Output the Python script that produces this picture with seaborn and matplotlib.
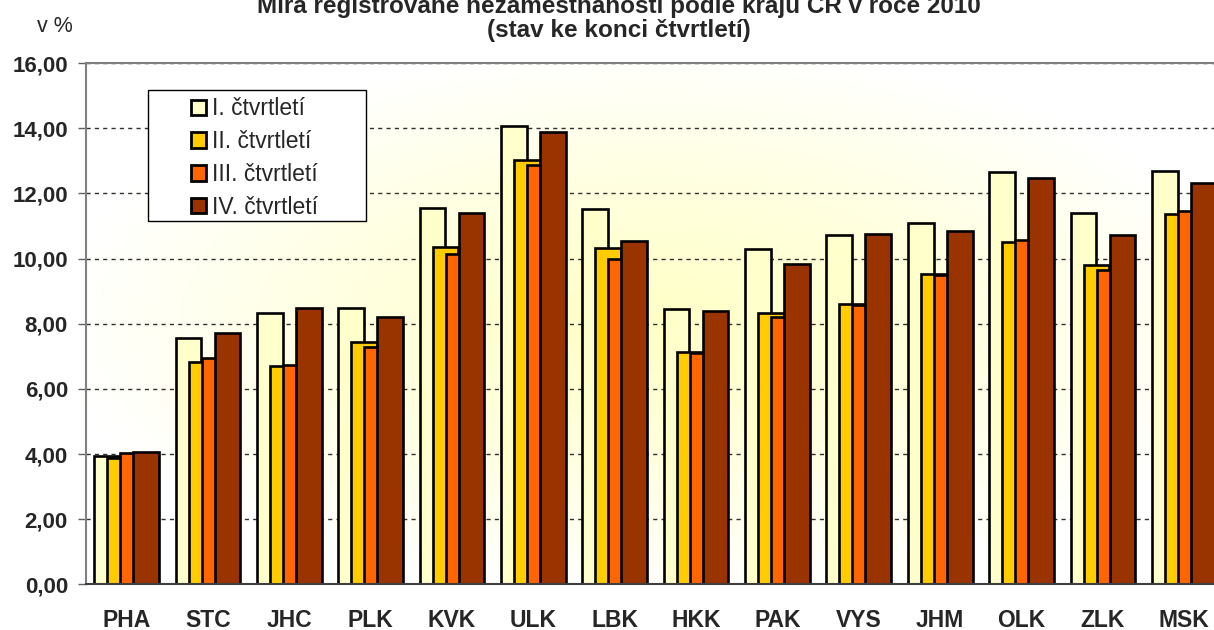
import numpy as np
import pandas as pd
import matplotlib
matplotlib.use('Agg')
import matplotlib.pyplot as plt
from matplotlib.patches import Rectangle
import seaborn as sns

regions = ['PHA', 'STC', 'JHC', 'PLK', 'KVK', 'ULK', 'LBK', 'HKK', 'PAK', 'VYS', 'JHM', 'OLK', 'ZLK', 'MSK']
quarters = ['I. čtvrtletí', 'II. čtvrtletí', 'III. čtvrtletí', 'IV. čtvrtletí']
q1 = [3.94, 7.55, 8.32, 8.49, 11.54, 14.08, 11.52, 8.44, 10.29, 10.71, 11.08, 12.67, 11.39, 12.70]
q2 = [3.87, 6.84, 6.71, 7.45, 10.36, 13.02, 10.32, 7.13, 8.34, 8.61, 9.53, 10.50, 9.81, 11.36]
q3 = [4.04, 6.96, 6.72, 7.29, 10.14, 12.86, 10.00, 7.09, 8.22, 8.57, 9.50, 10.56, 9.64, 11.47]
q4 = [4.07, 7.73, 8.49, 8.22, 11.39, 13.90, 10.53, 8.38, 9.85, 10.75, 10.86, 12.47, 10.73, 12.33]
colors = ['#FFFFCC', '#FFCC00', '#FF6600', '#993300']
yticks = [0, 2, 4, 6, 8, 10, 12, 14, 16]

df = pd.DataFrame({
    'kraj': regions * 4,
    'ctvrtleti': np.repeat(quarters, len(regions)),
    'hodnota': q1 + q2 + q3 + q4,
})

sns.set_style('white')
plt.rcParams['font.family'] = ['Liberation Sans', 'DejaVu Sans']

fig = plt.figure(figsize=(12.14, 6.30), dpi=100)
ax = fig.add_axes([0.0708, 0.0725, 0.9382, 0.8272])

# radial background gradient (light yellow centre -> white edges)
gx, gy = np.meshgrid(np.linspace(-1, 1, 400), np.linspace(-1, 1, 300))
r = np.clip(np.sqrt(gx ** 2 + gy ** 2) / 1.05, 0, 1) ** 1.2
center = np.array([255, 255, 200]) / 255
grad = (1 - r)[..., None] * center + r[..., None] * np.ones(3)
ax.imshow(grad, extent=[0, 1, 0, 1], transform=ax.transAxes, aspect='auto', zorder=0)

sns.barplot(data=df, x='kraj', y='hodnota', hue='ctvrtleti', order=regions,
            hue_order=quarters, palette=colors, edgecolor='black', linewidth=1.9,
            saturation=1, errorbar=None, ax=ax)

# Excel-like overlapping bars
bw, step = 0.316, 0.16
span = 3 * step + bw
for i, cont in enumerate(ax.containers):
    for bar in cont:
        c = round(bar.get_x() + bar.get_width() / 2)
        bar.set_x(c - span / 2 + i * step)
        bar.set_width(bw)

ax.set_xlim(-0.5, len(regions) - 0.5)
ax.set_ylim(0, 16)
ax.set_yticks(yticks)
ax.set_yticklabels([f'{v:.2f}'.replace('.', ',') for v in yticks], fontsize=16, fontweight='bold')
ax.set_xticks(range(len(regions)))
ax.set_xticklabels(regions, fontsize=16.5, fontweight='bold')
ax.set_xticks(np.arange(-0.5, len(regions), 1), minor=True)
ax.tick_params(axis='x', which='major', length=0, pad=17.5)
ax.tick_params(axis='x', which='minor', length=5, width=1, color='#606060', direction='out')
ax.tick_params(axis='y', length=6, width=1, color='#606060', direction='out', pad=7, left=True)
ax.set_xlabel('')
ax.set_ylabel('')

ax.set_axisbelow(True)
ax.yaxis.grid(True, linestyle=(0, (3, 3)), color='#303030', linewidth=1)
for s in ['left', 'top', 'right']:
    ax.spines[s].set_color('#808080')
    ax.spines[s].set_linewidth(1.5)
ax.spines['bottom'].set_color('#404040')
ax.spines['bottom'].set_linewidth(1.5)

handles, labels = ax.get_legend_handles_labels()
if ax.get_legend():
    ax.get_legend().remove()
box = Rectangle((0.0542, 0.6972), 0.1916, 0.2514, transform=ax.transAxes,
                facecolor='white', edgecolor='black', linewidth=1, zorder=4)
ax.add_patch(box)
leg = ax.legend(handles, labels, loc='upper left', bbox_to_anchor=(0.0919, 0.9346),
                frameon=False, fontsize=16.5, handlelength=0.65, handleheight=0.65,
                handletextpad=0.28, labelspacing=0.43, borderpad=0, borderaxespad=0)
for h in leg.legend_handles:
    h.set_linewidth(2)
    h.set_edgecolor('black')
leg.set_zorder(5)

fig.text(0.51, 0.993, 'Míra registrované nezaměstnanosti podle krajů ČR v roce 2010',
         ha='center', va='center', fontsize=17.5, fontweight='bold')
fig.text(0.51, 0.951, '(stav ke konci čtvrtletí)', ha='center', va='center',
         fontsize=17.5, fontweight='bold')
fig.text(0.045, 0.958, 'v %', ha='center', va='center', fontsize=15.5)

fig.savefig('out.png', dpi=100)
